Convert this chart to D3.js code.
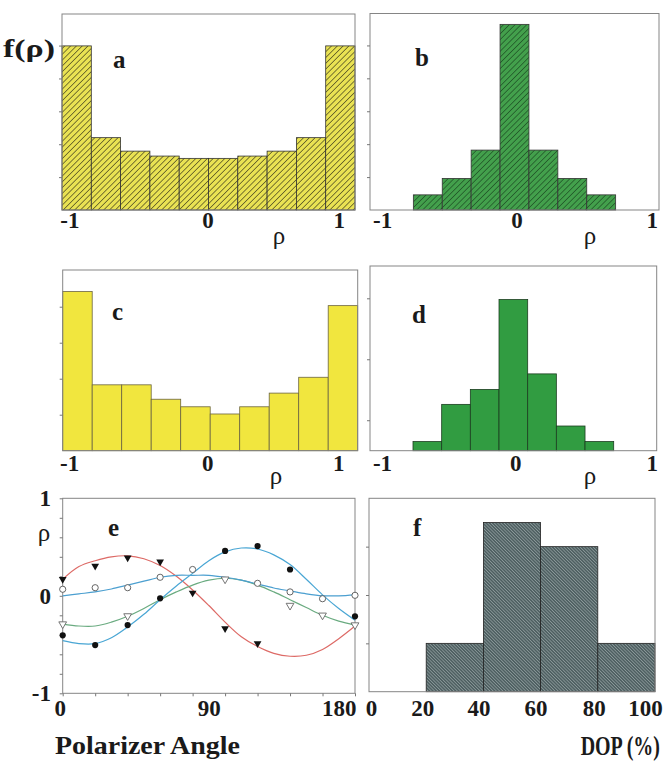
<!DOCTYPE html>
<html><head><meta charset="utf-8">
<script src="https://cdn.jsdelivr.net/npm/d3@7"></script>
<style>
body{margin:0;background:#fff;}
svg text{font-family:"Liberation Serif","Times New Roman",serif;fill:#1a1a1a;}
</style></head><body>
<svg id="chart" width="668" height="762"></svg>
<script>
// ---------- data ----------
const binWidth = 0.22;
const binsWide = [-1.1, -0.88, -0.66, -0.44, -0.22, 0, 0.22, 0.44, 0.66, 0.88];
const binsNarrow = [-0.77, -0.55, -0.33, -0.11, 0.11, 0.33, 0.55];
const valuesA = [4.99, 2.20, 1.79, 1.64, 1.57, 1.57, 1.64, 1.79, 2.20, 4.99];
const valuesB = [0.46, 0.96, 1.82, 5.64, 1.82, 0.96, 0.46];
const valuesC = [4.42, 1.83, 1.83, 1.43, 1.22, 1.02, 1.22, 1.60, 2.04, 4.03];
const valuesD = [0.30, 1.52, 2.01, 4.96, 2.52, 0.81, 0.30];
const dopBins = [20, 40, 60, 80];
const dopWidth = 20;
const valuesF = [1, 3.5, 3, 1];

const rhoTicks = [-1, 0, 1];
const angleTicks = [0, 90, 180];
const angleMinorTicks = [0, 20, 40, 60, 80, 100, 120, 140, 160, 180];
const dopTicks = [0, 20, 40, 60, 80, 100];
const eYTicks = [-1, 0, 1];
const eYMinorTicks = [-1, -0.8, -0.6, -0.4, -0.2, 0, 0.2, 0.4, 0.6, 0.8, 1];

// panel e: measured points
const angles = [0, 20, 40, 60, 80, 100, 120, 140, 160, 180];
const filledCircles   = [-0.405, -0.505, -0.30, -0.026, null, 0.46, 0.51, 0.27, null, -0.21];
const openCircles     = [0.067, 0.083, 0.083, 0.19, 0.27, null, 0.128, 0.04, -0.03, 0.005];
const filledTriangles = [0.17, 0.305, 0.39, 0.35, 0.03, -0.335, -0.49, null, null, null];
const openTriangles   = [-0.29, null, -0.207, null, null, 0.17, null, -0.10, -0.20, -0.30];

// panel e: fitted curves
const curveAngles = [0,10,20,30,40,50,60,70,80,90,100,110,120,130,140,150,160,170,180];
const curveRed   = [0.17,0.30,0.36,0.40,0.41,0.38,0.31,0.20,0.06,-0.10,-0.27,-0.42,-0.52,-0.59,-0.62,-0.61,-0.55,-0.44,-0.31];
const curveBlue1 = [-0.46,-0.49,-0.49,-0.43,-0.32,-0.19,-0.04,0.10,0.23,0.36,0.45,0.49,0.48,0.42,0.32,0.17,0.01,-0.13,-0.25];
const curveBlue2 = [0.0,0.02,0.04,0.07,0.11,0.15,0.19,0.21,0.21,0.21,0.19,0.16,0.12,0.08,0.05,0.02,0.0,0.0,0.01];
const curveGreen = [-0.29,-0.31,-0.31,-0.27,-0.21,-0.13,-0.04,0.04,0.11,0.16,0.18,0.16,0.11,0.04,-0.04,-0.12,-0.20,-0.26,-0.30];

// ---------- drawing ----------
const svg = d3.select("#chart");
const defs = svg.append("defs");

function hatch(id, bg, fg, size, angle, lw) {
  const p = defs.append("pattern").attr("id", id).attr("patternUnits", "userSpaceOnUse")
    .attr("width", size).attr("height", size).attr("patternTransform", `rotate(${angle})`);
  p.append("rect").attr("width", size).attr("height", size).attr("fill", bg);
  p.append("line").attr("x1", 0).attr("y1", 0).attr("x2", 0).attr("y2", size)
    .attr("stroke", fg).attr("stroke-width", lw);
}
hatch("hA", "#e9e253", "#3f3d1c", 4.1, 45, 1.3);
hatch("hB", "#43a04c", "#1b4a22", 4.1, 45, 1.3);
hatch("hF", "#4f6062", "#b6c2c2", 2.3, -45, 0.9);

const fmtRho = d => d < 0 ? "-" + Math.abs(d) : String(d);

function styleLabels(sel, size) {
  sel.selectAll("text").attr("font-size", size).attr("font-weight", "bold").attr("fill", "#1a1a1a");
}

function hist(cfg) {
  const x = d3.scaleLinear().domain(cfg.xDomain).range([cfg.x0, cfg.x1]);
  const y = d3.scaleLinear().domain([0, cfg.yMax]).range([cfg.y1, cfg.y0]);
  const g = svg.append("g");
  const data = cfg.bins.map((b, i) => ({ b, v: cfg.values[i] }));
  g.selectAll("rect.bar").data(data).join("rect").attr("class", "bar")
    .attr("x", d => x(d.b)).attr("width", d => x(d.b + cfg.w) - x(d.b))
    .attr("y", d => y(d.v)).attr("height", d => y(0) - y(d.v))
    .attr("fill", cfg.fill).attr("stroke", cfg.stroke || "#333").attr("stroke-width", 0.8);
  g.append("rect").attr("x", cfg.x0).attr("y", cfg.y0)
    .attr("width", cfg.x1 - cfg.x0).attr("height", cfg.y1 - cfg.y0)
    .attr("fill", "none").attr("stroke", "#858585").attr("stroke-width", 1);
  const ya = g.append("g").attr("transform", `translate(${cfg.x0},0)`)
    .call(d3.axisLeft(y).tickValues(cfg.yTicks).tickSize(3).tickFormat(""));
  ya.select(".domain").remove();
  ya.selectAll("line").attr("stroke", "#777");
  const xa = g.append("g").attr("transform", `translate(0,${cfg.y1})`)
    .call(d3.axisBottom(x).tickValues(cfg.xTicks).tickSize(0).tickPadding(cfg.pad).tickFormat(cfg.fmt));
  xa.select(".domain").remove();
  styleLabels(xa, 23);
  if (cfg.dx) xa.selectAll("text").attr("dx", (d, i) => cfg.dx[i]);
  return { x, y, g, xa };
}

// a
hist({ x0: 62, x1: 355, y0: 14, y1: 210, xDomain: [-1.1, 1.1], yMax: 5.96,
  bins: binsWide, w: binWidth, values: valuesA, fill: "url(#hA)", yTicks: [1,2,3,4,5],
  xTicks: rhoTicks, fmt: fmtRho, pad: 2, dx: [-6, -1, -3] });
// b
hist({ x0: 370, x1: 659, y0: 13.5, y1: 210, xDomain: [-1.1, 1.1], yMax: 5.97,
  bins: binsNarrow, w: binWidth, values: valuesB, fill: "url(#hB)", yTicks: [1,2,3,4,5],
  xTicks: rhoTicks, fmt: fmtRho, pad: 2, dx: [-1, 2, 6] });
// c
hist({ x0: 62.7, x1: 357.7, y0: 270, y1: 450.7, xDomain: [-1.1, 1.1], yMax: 5.02,
  bins: binsWide, w: binWidth, values: valuesC, fill: "#f1e63e", stroke: "#6b6440", yTicks: [1,2,3,4],
  xTicks: rhoTicks, fmt: fmtRho, pad: 4, dx: [-7, -3, -6] });
// d
hist({ x0: 370, x1: 656.7, y0: 266, y1: 450.7, xDomain: [-1.1, 1.1], yMax: 6.06,
  bins: binsNarrow, w: binWidth, values: valuesD, fill: "#319c41", stroke: "#1c3d20", yTicks: [1,3,5],
  xTicks: rhoTicks, fmt: fmtRho, pad: 4, dx: [-1, 2, 8] });
// f
hist({ x0: 369, x1: 655, y0: 498.3, y1: 691.7, xDomain: [0, 100], yMax: 4,
  bins: dopBins, w: dopWidth, values: valuesF, fill: "url(#hF)", stroke: "#222", yTicks: [1,2,3],
  xTicks: dopTicks, fmt: d => String(d), pad: 8, dx: [2, -4, -5, -5, -4, -10] });

// e
const ex = d3.scaleLinear().domain([0, 180]).range([62.7, 355]);
const ey = d3.scaleLinear().domain([-1, 1]).range([693.3, 498.3]);
const ge = svg.append("g");
ge.append("rect").attr("x", 62.7).attr("y", 498.3).attr("width", 355 - 62.7).attr("height", 693.3 - 498.3)
  .attr("fill", "none").attr("stroke", "#858585");
const eyMinor = ge.append("g").attr("transform", "translate(62.7,0)")
  .call(d3.axisLeft(ey).tickValues(eYMinorTicks).tickSize(3).tickFormat(""));
eyMinor.select(".domain").remove();
eyMinor.selectAll("line").attr("stroke", "#777");
const exMinor = ge.append("g").attr("transform", "translate(0,693.3)")
  .call(d3.axisBottom(ex).tickValues(angleMinorTicks).tickSize(3).tickFormat(""));
exMinor.select(".domain").remove();
exMinor.selectAll("line").attr("stroke", "#777");
const eyLab = ge.append("g").attr("transform", "translate(51,0)")
  .call(d3.axisLeft(ey).tickValues(eYTicks).tickSize(0).tickPadding(0).tickFormat(fmtRho));
eyLab.select(".domain").remove();
styleLabels(eyLab, 23);
const exLab = ge.append("g").attr("transform", "translate(0,693.3)")
  .call(d3.axisBottom(ex).tickValues(angleTicks).tickSize(0).tickPadding(6));
exLab.select(".domain").remove();
styleLabels(exLab, 23);
exLab.selectAll("text").filter(d => d === 0).attr("dx", -3);
exLab.selectAll("text").filter(d => d === 180).attr("text-anchor", "end").attr("dx", 1);

const line = d3.line().x((d, i) => ex(curveAngles[i])).y(d => ey(d)).curve(d3.curveCatmullRom);
[[curveRed, "#dd6a66"], [curveGreen, "#6aab80"], [curveBlue2, "#4b9fd0"], [curveBlue1, "#49a6d4"]]
  .forEach(([c, col]) => ge.append("path").datum(c).attr("d", line)
    .attr("fill", "none").attr("stroke", col).attr("stroke-width", 1.2));

function pts(vals) { return angles.map((a, i) => ({ a, v: vals[i] })).filter(d => d.v !== null); }
ge.selectAll("circle.fc").data(pts(filledCircles)).join("circle").attr("class", "fc")
  .attr("cx", d => ex(d.a)).attr("cy", d => ey(d.v)).attr("r", 3.1).attr("fill", "#111");
ge.selectAll("circle.oc").data(pts(openCircles)).join("circle").attr("class", "oc")
  .attr("cx", d => ex(d.a)).attr("cy", d => ey(d.v)).attr("r", 3.1).attr("fill", "#fff")
  .attr("stroke", "#555").attr("stroke-width", 0.9);
const tri = d3.symbol().type(d3.symbolTriangle).size(26);
ge.selectAll("path.ft").data(pts(filledTriangles)).join("path").attr("class", "ft")
  .attr("d", tri).attr("transform", d => `translate(${ex(d.a)},${ey(d.v)}) rotate(180)`).attr("fill", "#111");
ge.selectAll("path.ot").data(pts(openTriangles)).join("path").attr("class", "ot")
  .attr("d", tri).attr("transform", d => `translate(${ex(d.a)},${ey(d.v)}) rotate(180)`)
  .attr("fill", "#fff").attr("stroke", "#666").attr("stroke-width", 0.9);

// ---------- text labels ----------
function txt(x, y, s, size, bold, anchor, len) {
  const t = svg.append("text").attr("x", x).attr("y", y).text(s).attr("font-size", size)
    .attr("font-weight", bold ? "bold" : "normal").attr("text-anchor", anchor || "start");
  if (len) t.attr("textLength", len).attr("lengthAdjust", "spacingAndGlyphs");
  return t;
}
txt(3, 57, "f(ρ)", 26, true, "start", 52);
txt(113, 68, "a", 25, true);
txt(415, 66, "b", 25, true);
txt(112, 320, "c", 25, true);
txt(412, 323, "d", 25, true);
txt(108, 536, "e", 25, true);
txt(413, 536, "f", 25, true);
txt(279, 244, "ρ", 25, false, "middle");
txt(590, 244, "ρ", 25, false, "middle");
txt(276, 484, "ρ", 25, false, "middle");
txt(590, 484, "ρ", 25, false, "middle");
txt(44, 541, "ρ", 25, false, "middle");
txt(55, 754, "Polarizer Angle", 26, true, "start", 185);
svg.append("text").attr("transform", "translate(660,755) scale(0.74,1)")
  .attr("text-anchor", "end").attr("font-size", 27).attr("font-weight", "bold").text("DOP (%)");
</script></body></html>
